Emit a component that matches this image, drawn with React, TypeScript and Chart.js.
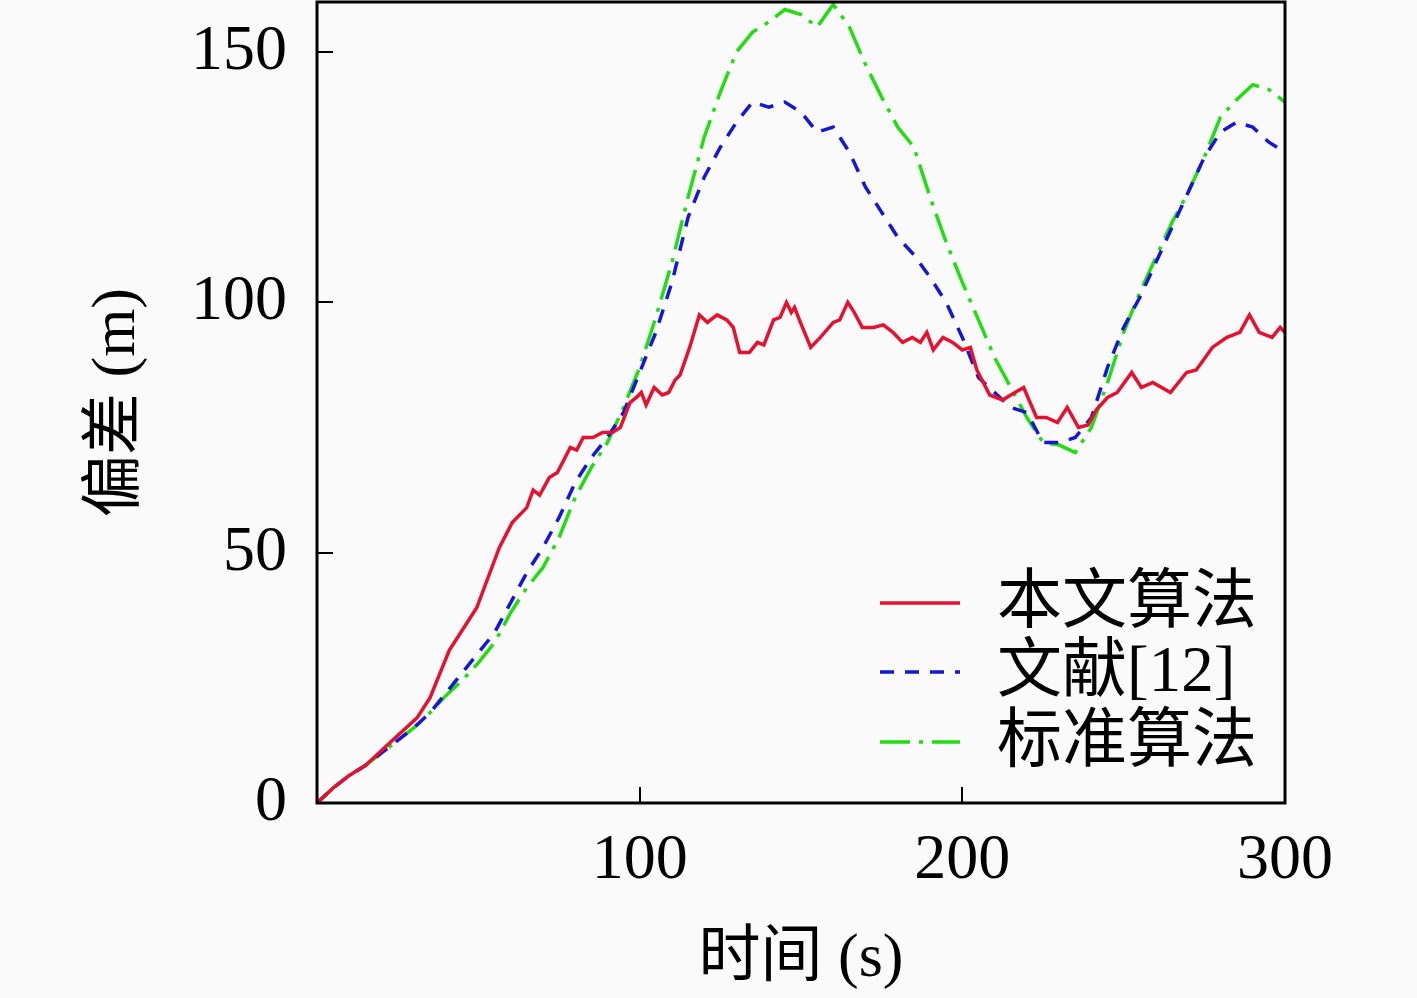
import { useEffect, useRef } from 'react';
import { Chart, registerables } from 'chart.js';

Chart.register(...registerables);

// time axis (s) for the two smoother curves
const times = [
  0, 5, 10, 15, 20, 25, 30, 35, 40, 45, 50, 55, 60, 65, 70, 75, 80, 85, 90, 95,
  100, 105, 110, 115, 120, 125, 130, 135, 140, 145, 150, 155, 160, 165, 170, 175, 180, 185, 190, 195,
  200, 205, 210, 215, 220, 225, 230, 235, 240, 245, 250, 255, 260, 265, 270, 275, 280, 285, 290, 295, 300,
];

// 本文算法 (noisier, read at its own sample times)
const oursTimes = [
  0, 5, 10, 15, 20, 25, 31, 35, 41, 45, 49.5, 56.5, 60.5, 65, 67, 69, 72, 74.5, 78.5, 80.5,
  82.5, 85.5, 88.5, 91.5, 94, 97, 99, 100.5, 102, 104.5, 107, 109, 111, 112.5, 115.5, 118.5, 121, 124, 127, 129,
  131, 134, 136.5, 138.5, 141.5, 143.5, 145.5, 147, 148, 149.5, 153, 156, 158, 160, 162, 164.5, 166.5, 169, 172.5, 175.5,
  178.5, 181.5, 184.5, 187, 189, 191, 194, 197, 200, 202.5, 204.5, 208.5, 212.5, 215, 219, 223, 226, 229.5, 232.5, 236,
  239, 241.5, 245, 248, 252.5, 255.5, 259, 264.5, 269.5, 272.5, 277.5, 282, 286, 289, 292, 296, 298.5, 300,
];
const oursValues = [
  0, 3, 5.5, 7.5, 10.5, 13.5, 17, 21, 30.5, 34.5, 39, 51, 56, 59, 62.5, 61.5, 65, 66, 71, 70.5,
  73, 73, 74, 74, 75, 80, 81, 82, 79.5, 83, 81.5, 82, 84.5, 85.5, 91, 97.5, 96, 97.5, 96.5, 95,
  90, 90, 92, 91.5, 96.5, 97, 100, 98, 99, 96.5, 91, 93, 94.5, 96, 96.5, 100, 98, 95, 95, 95.5,
  94, 92, 93, 92, 94, 90.5, 93, 92, 90.5, 91, 86.5, 81.5, 80.5, 81.5, 83, 77, 77, 76, 79, 75,
  75.5, 78.5, 81, 82, 86, 83, 84, 82, 86, 86.5, 91, 93, 94, 97.5, 94, 93, 95, 94,
];

// 文献[12]
const ref12Values = [
  0, 3, 5.5, 7.5, 10, 12.5, 15, 18, 22, 26, 30, 34, 40, 46, 51, 57, 64, 69, 73, 78,
  86, 94, 104, 117, 125, 131, 136, 140, 139, 140, 138, 134, 135, 130, 123, 118, 113, 109.5, 105, 100,
  93, 85, 82, 79, 78, 72, 72, 73, 77, 87, 95, 101, 108, 115, 122, 129, 134, 136, 135, 132, 130,
];

// 标准算法
const standardValues = [
  0, 3, 5.5, 7.5, 10, 12.5, 15, 18, 21.5, 24.5, 28, 32, 38, 43, 47, 53, 61, 67, 72, 79,
  87, 97, 108, 121, 133, 142, 150, 154, 156, 158.5, 157.5, 155, 159.5, 155, 147.5, 141, 135, 131, 121, 112,
  104, 96.5, 89, 83, 77, 72, 71.5, 70, 75, 84, 94, 102, 109, 116, 122, 129, 137, 140.5, 143.5, 142.5, 140,
];

const seriesNames = ['本文算法', '文献[12]', '标准算法'];
const xTickValues = [100, 200, 300];
const yTickValues = [0, 50, 100, 150];

const FONT = '"Liberation Serif", "Noto Sans CJK SC", serif';

const toPoints = (xs: number[], values: number[]) => values.map((v, i) => ({ x: xs[i], y: v }));

const framePlugin = {
  id: 'frame',
  afterDatasetsDraw(chart: Chart) {
    const { ctx, chartArea } = chart;
    ctx.save();
    ctx.strokeStyle = '#000';
    ctx.lineWidth = 3;
    ctx.strokeRect(chartArea.left, chartArea.top, chartArea.right - chartArea.left, chartArea.bottom - chartArea.top);
    ctx.restore();
  },
};

const legendPlugin = {
  id: 'insideLegend',
  afterDatasetsDraw(chart: Chart) {
    const { ctx, chartArea } = chart;
    const x0 = chartArea.right - 405;
    const x1 = chartArea.right - 325;
    const textX = chartArea.right - 288;
    const rows = [603, 672, 742];
    ctx.save();
    chart.data.datasets.forEach((ds: any, i: number) => {
      const y = rows[i];
      ctx.beginPath();
      ctx.strokeStyle = ds.borderColor;
      ctx.lineWidth = ds.borderWidth;
      ctx.setLineDash(ds.borderDash || []);
      ctx.moveTo(x0, y);
      ctx.lineTo(x1, y);
      ctx.stroke();
      ctx.setLineDash([]);
      ctx.fillStyle = '#000';
      ctx.font = `65px ${FONT}`;
      ctx.textBaseline = 'middle';
      ctx.textAlign = 'left';
      ctx.fillText(ds.label, textX, y + 2);
    });
    ctx.restore();
  },
};

export default function App() {
  const chartRef = useRef<HTMLCanvasElement>(null);
  const chartInstance = useRef<Chart | null>(null);

  useEffect(() => {
    if (!chartRef.current) return;
    if (chartInstance.current) chartInstance.current.destroy();
    const ctx = chartRef.current.getContext('2d');
    if (!ctx) return;

    chartInstance.current = new Chart(ctx, {
      type: 'line',
      data: {
        datasets: [
          {
            label: seriesNames[0],
            data: toPoints(oursTimes, oursValues),
            borderColor: '#e8102f',
            borderWidth: 3.5,
            pointRadius: 0,
            tension: 0,
          },
          {
            label: seriesNames[1],
            data: toPoints(times, ref12Values),
            borderColor: '#1616d8',
            borderWidth: 3.5,
            borderDash: [14, 11],
            pointRadius: 0,
            tension: 0,
          },
          {
            label: seriesNames[2],
            data: toPoints(times, standardValues),
            borderColor: '#22dd11',
            borderWidth: 3.5,
            borderDash: [30, 9, 4, 9],
            pointRadius: 0,
            tension: 0,
          },
        ],
      },
      plugins: [framePlugin, legendPlugin],
      options: {
        animation: false,
        responsive: false,
        devicePixelRatio: 1,
        layout: { padding: { top: 2, right: 132, left: 0, bottom: 0 } },
        plugins: {
          legend: { display: false },
          tooltip: { enabled: false },
        },
        scales: {
          x: {
            type: 'linear',
            min: 0,
            max: 300,
            afterBuildTicks: (scale: any) => {
              scale.ticks = xTickValues.map((v) => ({ value: v }));
            },
            afterFit: (scale: any) => {
              scale.height = 195;
              scale.paddingLeft = 0;
              scale.paddingRight = 0;
            },
            border: { display: false },
            grid: {
              drawOnChartArea: false,
              drawTicks: true,
              tickLength: -16,
              color: '#000',
              lineWidth: 2,
            },
            ticks: {
              color: '#000',
              padding: 36,
              maxRotation: 0,
              font: { family: FONT, size: 64, lineHeight: 1.2 },
            },
            title: {
              display: true,
              text: '时间 (s)',
              color: '#000',
              padding: { top: 0, bottom: 1 },
              font: { family: FONT, size: 62, lineHeight: 1.2 },
            },
          },
          y: {
            type: 'linear',
            min: 0,
            max: 160,
            afterBuildTicks: (scale: any) => {
              scale.ticks = yTickValues.map((v) => ({ value: v }));
            },
            afterFit: (scale: any) => {
              scale.width = 317;
              scale.paddingTop = 0;
              scale.paddingBottom = 0;
            },
            border: { display: false },
            grid: {
              drawOnChartArea: false,
              drawTicks: true,
              tickLength: -16,
              color: '#000',
              lineWidth: 2,
            },
            ticks: {
              color: '#000',
              padding: 46,
              font: { family: FONT, size: 64, lineHeight: 1.2 },
            },
            title: {
              display: true,
              text: '偏差 (m)',
              color: '#000',
              padding: { top: 81, bottom: 0 },
              font: { family: FONT, size: 62, lineHeight: 1.2 },
            },
          },
        },
      },
    });

    return () => {
      if (chartInstance.current) {
        chartInstance.current.destroy();
        chartInstance.current = null;
      }
    };
  }, []);

  return (
    <div style={{ position: 'fixed', left: 0, top: 0, width: 1417, height: 998, background: '#fafafa' }}>
      <canvas ref={chartRef} width={1417} height={998} style={{ width: 1417, height: 998, display: 'block' }}></canvas>
    </div>
  );
}
